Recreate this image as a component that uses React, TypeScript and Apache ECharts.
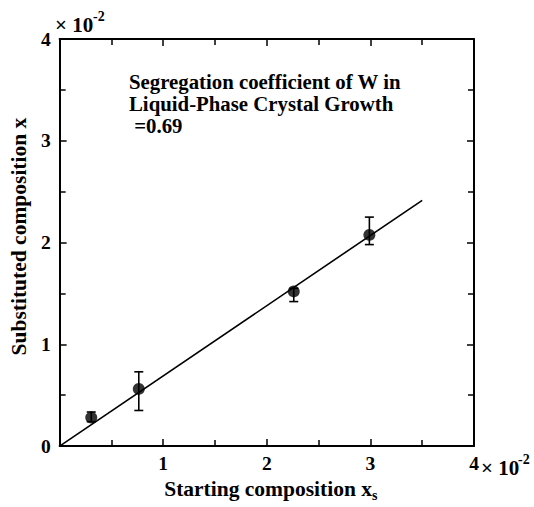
import React, { useEffect, useRef } from "react";
import * as echarts from "echarts";

const startX = [0.305, 0.764, 2.26, 2.99];
const substY = [0.28, 0.562, 1.52, 2.075];
const errLow = [0.24, 0.35, 1.42, 1.98];
const errHigh = [0.335, 0.73, 1.55, 2.25];
const fitX = [0, 3.5];
const fitY = [0, 2.415];
const annotationLines = ["Segregation coefficient of W in", "Liquid-Phase Crystal Growth", " =0.69"];

const FONT = "'Liberation Serif', 'Times New Roman', serif";

export default function App() {
  const ref = useRef<HTMLDivElement>(null);
  useEffect(() => {
    if (!ref.current) return;
    const chart = echarts.init(ref.current, null, { renderer: "svg" });
    const labelStyle = { fontFamily: FONT, fontWeight: "bold" as const, fontSize: 19.5, color: "#000" };
    const nameStyle = { fontFamily: FONT, fontWeight: "bold" as const, fontSize: 21.5, color: "#000" };
    const axisCommon = {
      type: "value" as const,
      min: 0,
      max: 4,
      interval: 1,
      splitLine: { show: false },
      axisLine: { show: true, onZero: false, lineStyle: { color: "#000", width: 2 } },
      axisTick: { show: true, inside: true, length: 7, lineStyle: { color: "#000", width: 1.5 } },
      minorTick: { show: true, splitNumber: 2, length: 6, lineStyle: { color: "#000", width: 1.5 } },
      minorSplitLine: { show: false },
    };
    const txt = (left: number, top: number, text: string, size: number) => ({
      type: "text",
      left,
      top,
      style: { text, fontFamily: FONT, fontWeight: "bold", fontSize: size, fill: "#000" },
    });
    chart.setOption({
      animation: false,
      backgroundColor: "#fff",
      grid: { left: 59, top: 39, width: 415, height: 415, containLabel: false },
      xAxis: [
        {
          ...axisCommon,
          position: "bottom",
          axisLabel: {
            ...labelStyle,
            margin: 7,
            formatter: (v: number) => (v === 0 ? "" : String(v)),
          },
          name: "Starting composition x{sub|s}",
          nameLocation: "middle",
          nameGap: 15,
          nameTextStyle: {
            ...nameStyle,
            padding: [0, 0, 0, 8],
            rich: {
              sub: { ...nameStyle, fontSize: 14, padding: [12, 0, 0, 0] },
            },
          },
        },
        {
          ...axisCommon,
          position: "top",
          axisLabel: { show: false },
        },
      ],
      yAxis: [
        {
          ...axisCommon,
          position: "left",
          axisLabel: { ...labelStyle, margin: 9 },
          name: "Substituted composition x",
          nameLocation: "middle",
          nameRotate: 90,
          nameGap: 26,
          nameTextStyle: { ...nameStyle, padding: [0, 0, 0, 12] },
        },
        {
          ...axisCommon,
          position: "right",
          axisLabel: { show: false },
        },
      ],
      graphic: [
        {
          type: "text",
          left: 129,
          top: 70,
          style: {
            text: annotationLines.join("\n"),
            fontFamily: FONT,
            fontWeight: "bold",
            fontSize: 20.8,
            lineHeight: 22,
            fill: "#000",
          },
        },
        txt(55, 14, "× 10", 21),
        txt(93, 9, "-2", 14),
        txt(481, 457, "× 10", 21),
        txt(518, 452, "-2", 14),
      ],
      series: [
        {
          type: "line",
          data: fitX.map((x, i) => [x, fitY[i]]),
          showSymbol: false,
          symbol: "none",
          lineStyle: { color: "#000", width: 1.6 },
          z: 2,
        },
        {
          type: "custom",
          data: startX.map((x, i) => [x, errLow[i], errHigh[i]]),
          encode: { x: 0, y: [1, 2] },
          z: 3,
          renderItem: (_params: any, api: any) => {
            const x = api.value(0);
            const p1 = api.coord([x, api.value(1)]);
            const p2 = api.coord([x, api.value(2)]);
            const hw = 4.5;
            const st = { stroke: "#000", lineWidth: 1.6 };
            return {
              type: "group",
              children: [
                { type: "line", shape: { x1: p1[0], y1: p1[1], x2: p2[0], y2: p2[1] }, style: st },
                { type: "line", shape: { x1: p1[0] - hw, y1: p1[1], x2: p1[0] + hw, y2: p1[1] }, style: st },
                { type: "line", shape: { x1: p2[0] - hw, y1: p2[1], x2: p2[0] + hw, y2: p2[1] }, style: st },
              ],
            };
          },
        },
        {
          type: "scatter",
          data: startX.map((x, i) => [x, substY[i]]),
          symbol: "circle",
          symbolSize: 12,
          itemStyle: { color: "#000" },
          z: 4,
        },
      ],
    });
    return () => chart.dispose();
  }, []);
  return <div ref={ref} style={{ position: "absolute", left: 0, top: 0, width: 534, height: 507 }} />;
}
